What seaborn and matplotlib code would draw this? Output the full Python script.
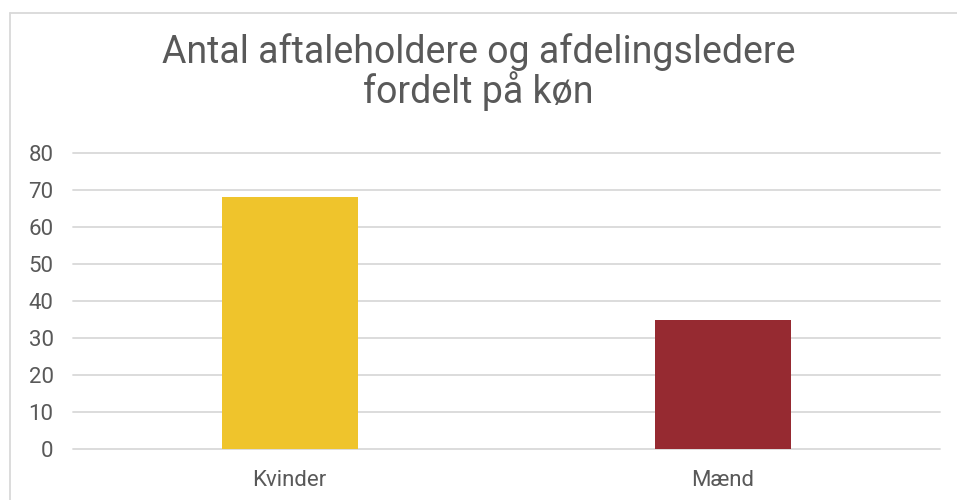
import matplotlib
matplotlib.use("Agg")
import matplotlib.pyplot as plt
import seaborn as sns
import pandas as pd
from matplotlib.lines import Line2D

categories = ["Kvinder", "Mænd"]
values = [68, 35]
bar_colors = ["#EFC42C", "#962A31"]
title = "Antal aftaleholdere og afdelingsledere\nfordelt på køn"

sns.set_style("white")
plt.rcParams["font.family"] = ["Roboto", "DejaVu Sans"]

df = pd.DataFrame({"kon": categories, "antal": values})

fig = plt.figure(figsize=(9.57, 5.0), dpi=100)
ax = fig.add_axes([0.0763, 0.102, 0.9057, 0.592])

sns.barplot(data=df, x="kon", y="antal", hue="kon", palette=bar_colors,
            width=0.314, legend=False, ax=ax, saturation=1, linewidth=0)

ax.set_ylim(0, 80)
ax.set_xlim(-0.5, 1.5)
ax.set_yticks(range(0, 81, 10))
ax.yaxis.grid(True, color="#D9D9D9", linewidth=1.3)
for gl in ax.get_ygridlines():
    gl.set_clip_on(False)
ax.set_axisbelow(True)
for s in ax.spines.values():
    s.set_visible(False)
ax.set_xlabel("")
ax.set_ylabel("")
ax.tick_params(axis="y", labelsize=16, colors="#595959", length=0, pad=14)
ax.tick_params(axis="x", labelsize=16, colors="#595959", length=0, pad=15)

fig.text(0.5, 0.794, title, ha="center", va="baseline", fontsize=27,
         color="#595959", linespacing=1.0)

# light border (only left and top edges fall inside the image)
fig.add_artist(Line2D([9.5 / 957, 9.5 / 957], [0, 1 - 13 / 500],
                      transform=fig.transFigure, color="#D9D9D9", linewidth=1.3))
fig.add_artist(Line2D([9.5 / 957, 1], [1 - 13 / 500, 1 - 13 / 500],
                      transform=fig.transFigure, color="#D9D9D9", linewidth=1.3))

fig.savefig("out.png", dpi=100)
plt.close()
